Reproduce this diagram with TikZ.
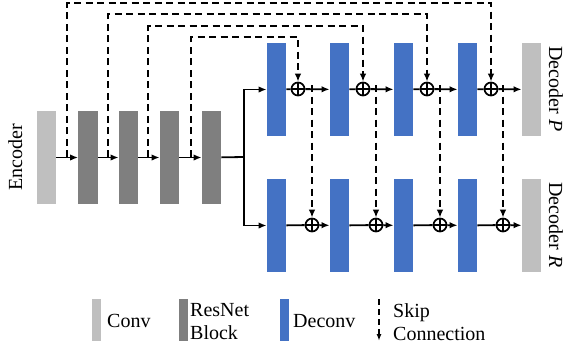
\documentclass[tikz,border=0pt]{standalone}
\usepackage{fontspec}
\setmainfont{Liberation Serif}
\usetikzlibrary{arrows.meta}
\definecolor{convgray}{RGB}{191, 191, 191}
\definecolor{resgray}{RGB}{127, 127, 127}
\definecolor{deconvblue}{RGB}{68, 114, 196}
\tikzset{
    block/.style     = {minimum width=19.5pt, minimum height=93pt, inner sep=0pt},
    convbox/.style   = {block, fill=convgray},
    resbox/.style    = {block, fill=resgray},
    deconvbox/.style = {block, fill=deconvblue},
    keybox/.style    = {minimum width=9pt, minimum height=42pt, inner sep=0pt},
    sumnode/.style   = {circle, draw, line width=1.7pt, minimum size=13pt, inner sep=0pt,
                        path picture={\draw[line width=1.7pt]
                            (path picture bounding box.north) -- (path picture bounding box.south)
                            (path picture bounding box.west)  -- (path picture bounding box.east);}},
    flow/.style      = {line width=1.8pt, -{Latex[length=8pt, width=6.5pt]}},
    plain/.style     = {line width=1.8pt},
    skipline/.style  = {line width=1.8pt, dash pattern=on 7pt off 4.5pt, -{Latex[length=8pt, width=6.5pt]}},
    txt/.style       = {inner sep=0pt, font=\rmfamily\fontsize{20}{23}\selectfont},
}

\begin{document}
\begin{tikzpicture}[x=1pt, y=-1pt]
            \useasboundingbox (0, 0) rectangle (570, 349);
            % Encoder
            \node[convbox] (conv)  at ( 46.5, 157.5) {};
            \node[resbox]  (res1)  at ( 88.0, 157.5) {};
            \node[resbox]  (res2)  at (128.5, 157.5) {};
            \node[resbox]  (res3)  at (169.5, 157.5) {};
            \node[resbox]  (res4)  at (211.5, 157.5) {};
            \node[txt, rotate=90, anchor=base] (enc) at (22, 157) {Encoder};
            % Decoder P
            \node[deconvbox] (dP1)  at (276.5,  89.5) {};
            \node[deconvbox] (dP2)  at (339.5,  89.5) {};
            \node[deconvbox] (dP3)  at (403.5,  89.5) {};
            \node[deconvbox] (dP4)  at (467.5,  89.5) {};
            \node[convbox]   (outP) at (531.5,  89.5) {};
            \node[txt, rotate=-90, anchor=base] (decP) at (549, 89) {Decoder \textit{P}};
            % Decoder R
            \node[deconvbox] (dR1)  at (276.5, 225.5) {};
            \node[deconvbox] (dR2)  at (339.5, 225.5) {};
            \node[deconvbox] (dR3)  at (403.5, 225.5) {};
            \node[deconvbox] (dR4)  at (467.5, 225.5) {};
            \node[convbox]   (outR) at (531.5, 225.5) {};
            \node[txt, rotate=-90, anchor=base] (decR) at (549, 225) {Decoder \textit{R}};
            % Sums
            \node[sumnode] (sP1) at (298,  89) {};
            \node[sumnode] (sP2) at (363,  89) {};
            \node[sumnode] (sP3) at (427,  89) {};
            \node[sumnode] (sP4) at (491,  89) {};
            \node[sumnode] (sR1) at (312, 225) {};
            \node[sumnode] (sR2) at (376, 225) {};
            \node[sumnode] (sR3) at (440, 225) {};
            \node[sumnode] (sR4) at (503, 225) {};
            % Branch points
            \coordinate (k1)    at ( 67, 157);
            \coordinate (k2)    at (108, 157);
            \coordinate (k3)    at (148, 157);
            \coordinate (k4)    at (191, 157);
            \coordinate (split) at (244, 157);
            \coordinate (b1)    at (312,  89);
            \coordinate (b2)    at (376,  89);
            \coordinate (b3)    at (440,  89);
            \coordinate (b4)    at (503,  89);
            % Encoder flow
            \draw[flow]  (conv) -- (res1);
            \draw[flow]  (res1) -- (res2);
            \draw[flow]  (res2) -- (res3);
            \draw[flow]  (res3) -- (res4);
            \draw[plain] (res4) -- (split);
            \draw[flow]  (split) |- (dP1);
            \draw[flow]  (split) |- (dR1);
            % Decoder flow
            \draw[plain] (dP1) -- (sP1);  \draw[flow] (sP1) -- (dP2);
            \draw[plain] (dP2) -- (sP2);  \draw[flow] (sP2) -- (dP3);
            \draw[plain] (dP3) -- (sP3);  \draw[flow] (sP3) -- (dP4);
            \draw[plain] (dP4) -- (sP4);  \draw[flow] (sP4) -- (outP);
            \draw[plain] (dR1) -- (sR1);  \draw[flow] (sR1) -- (dR2);
            \draw[plain] (dR2) -- (sR2);  \draw[flow] (sR2) -- (dR3);
            \draw[plain] (dR3) -- (sR3);  \draw[flow] (sR3) -- (dR4);
            \draw[plain] (dR4) -- (sR4);  \draw[flow] (sR4) -- (outR);
            % Skip connections
            \draw[skipline] (k1) -- ++(0, -154) -| (sP4);
            \draw[skipline] (k2) -- ++(0, -143) -| (sP3);
            \draw[skipline] (k3) -- ++(0, -131) -| (sP2);
            \draw[skipline] (k4) -- ++(0, -120) -| (sP1);
            \draw[skipline] ([yshift=4pt]b1) -- (sR1);
            \draw[skipline] ([yshift=4pt]b2) -- (sR2);
            \draw[skipline] ([yshift=4pt]b3) -- (sR3);
            \draw[skipline] ([yshift=4pt]b4) -- (sR4);
            % Legend
            \node[keybox, fill=convgray]   (keyconv)   at ( 96.5, 320) {};
            \node[txt, anchor=base west]   (txtconv)   at (107, 327) {Conv};
            \node[keybox, fill=resgray]    (keyres)    at (183.5, 320) {};
            \node[txt, anchor=base west, align=left] (txtres) at (190, 339) {ResNet\\Block};
            \node[keybox, fill=deconvblue] (keydeconv) at (284.5, 320) {};
            \node[txt, anchor=base west]   (txtdeconv) at (293, 327) {Deconv};
            \coordinate (keytop) at (379, 299);
            \coordinate (keybot) at (379, 341);
            \draw[line width=1.4pt, dash pattern=on 6pt off 4pt, -{Latex[length=7pt, width=5pt]}] (keytop) -- (keybot);
            \node[txt, anchor=base west, align=left] (txtskip) at (393, 340) {Skip\\Connection};
\end{tikzpicture}
\end{document}
